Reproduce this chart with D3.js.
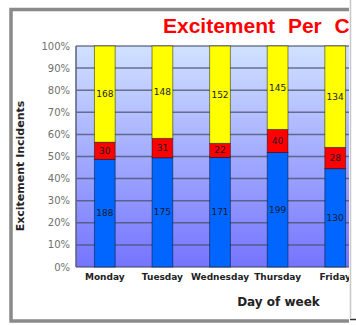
<!DOCTYPE html>
<html><head><meta charset="utf-8">
<script src="https://cdn.jsdelivr.net/npm/d3@7"></script>
<style>html,body{margin:0;padding:0;background:#fff;}svg{display:block;}</style>
</head><body>
<script>
const days = ["Monday","Tuesday","Wednesday","Thursday","Friday"];
const blueVals = [188,175,171,199,130];
const redVals = [30,31,22,40,28];
const yellowVals = [168,148,152,145,134];
const yTicks = [0,0.1,0.2,0.3,0.4,0.5,0.6,0.7,0.8,0.9,1.0];
const seriesKeys = ["blue","red","yellow"];
const seriesColors = {blue:"#0066ff", red:"#ff0000", yellow:"#ffff00"};
const titleText = "Excitement Per Category";
const yTitle = "Excitement Incidents";
const xTitle = "Day of week";

const W = 356, H = 325;
const svg = d3.select("body").append("svg").attr("width", W).attr("height", H);
const defs = svg.append("defs");
defs.append("clipPath").attr("id","clipR").append("rect").attr("x",0).attr("y",0).attr("width",349).attr("height",H);
const grad = defs.append("linearGradient").attr("id","bg").attr("x1",0).attr("y1",0).attr("x2",0).attr("y2",1);
grad.append("stop").attr("offset","0%").attr("stop-color","#d0e2ff");
grad.append("stop").attr("offset","100%").attr("stop-color","#7474ff");

const g = svg.append("g").attr("clip-path","url(#clipR)");

// frame
g.append("rect").attr("x",11).attr("y",9.5).attr("width",400).attr("height",311.5)
  .attr("fill","#fff").attr("stroke","#8a8a8a").attr("stroke-width",3.5);

const table = days.map((d,i)=>({day:d, blue:blueVals[i], red:redVals[i], yellow:yellowVals[i]}));
const stacked = d3.stack().keys(seriesKeys).offset(d3.stackOffsetExpand)(table);

const x = d3.scaleBand().domain(days).range([76, 76 + 57.6*days.length]);
const y = d3.scaleLinear().domain([0,1]).range([267, 46]);
const barW = x.bandwidth()*0.36;

// plot background
g.append("rect").attr("x",76).attr("y",y(1)).attr("width",400).attr("height",y(0)-y(1))
  .attr("fill","url(#bg)");

// gridlines
g.append("g").selectAll("line").data(yTicks).join("line")
  .attr("x1",76).attr("x2",480).attr("y1",d=>y(d)).attr("y2",d=>y(d))
  .attr("stroke","#4a4f6a").attr("stroke-opacity",0.75).attr("stroke-width",1.5);
g.append("line").attr("x1",76).attr("x2",76).attr("y1",y(1)).attr("y2",y(0))
  .attr("stroke","#5a5f7a").attr("stroke-width",1.5);

// bars
const layers = g.append("g").selectAll("g").data(stacked).join("g")
  .attr("fill", d=>seriesColors[d.key]);
layers.selectAll("rect").data(d=>d).join("rect")
  .attr("x", d=>x(d.data.day)+x.bandwidth()/2-barW/2)
  .attr("width", barW)
  .attr("y", d=>y(d[1]))
  .attr("height", d=>y(d[0])-y(d[1]))
  .attr("stroke","rgba(0,0,0,0.45)").attr("stroke-width",1);

// value labels
stacked.forEach(layer=>{
  g.append("g").selectAll("text").data(layer).join("text")
    .attr("x", d=>x(d.data.day)+x.bandwidth()/2)
    .attr("y", d=>(y(d[0])+y(d[1]))/2)
    .attr("text-anchor","middle").attr("dominant-baseline","central")
    .attr("font-family","DejaVu Sans").attr("font-size","9px").attr("fill","#1a1a2a")
    .text(d=>d.data[layer.key]);
});

// y axis ticks labels
const yAxis = d3.axisLeft(y).tickValues(yTicks).tickFormat(d3.format(".0%")).tickSize(0).tickPadding(6);
const ya = g.append("g").attr("transform","translate(76,0)").call(yAxis);
ya.select(".domain").remove();
ya.selectAll("text").attr("font-family","DejaVu Sans").attr("font-size","10px").attr("fill","#707070").attr("dy","0.3em");

// x axis labels
const xAxis = d3.axisBottom(x).tickSize(0).tickPadding(8);
const xa = g.append("g").attr("transform","translate(0,267)").call(xAxis);
xa.select(".domain").remove();
xa.selectAll("text").attr("font-family","DejaVu Sans").attr("font-weight","bold").attr("font-size","9px").attr("fill","#222").attr("dy","0.55em");

// titles
g.append("text").attr("x",163).attr("y",33).attr("font-family","Liberation Sans, Arial").attr("font-weight","bold")
  .attr("font-size","21px").attr("word-spacing","7px").attr("fill","#ff0000").text(titleText);
g.append("text").attr("transform","translate(24,166) rotate(-90)").attr("text-anchor","middle")
  .attr("font-family","DejaVu Sans").attr("font-weight","bold").attr("font-size","11px").attr("fill","#222").text(yTitle);
g.append("text").attr("x",278.5).attr("y",306).attr("text-anchor","middle")
  .attr("font-family","DejaVu Sans").attr("font-weight","bold").attr("font-size","12px").attr("fill","#222").text(xTitle);

// right edge
svg.append("line").attr("x1",350.5).attr("x2",350.5).attr("y1",0).attr("y2",318).attr("stroke","#c8c8c8").attr("stroke-width",1.5);
svg.append("line").attr("x1",350).attr("x2",356).attr("y1",319.5).attr("y2",319.5).attr("stroke","#333").attr("stroke-width",1.5);
</script>
</body></html>
